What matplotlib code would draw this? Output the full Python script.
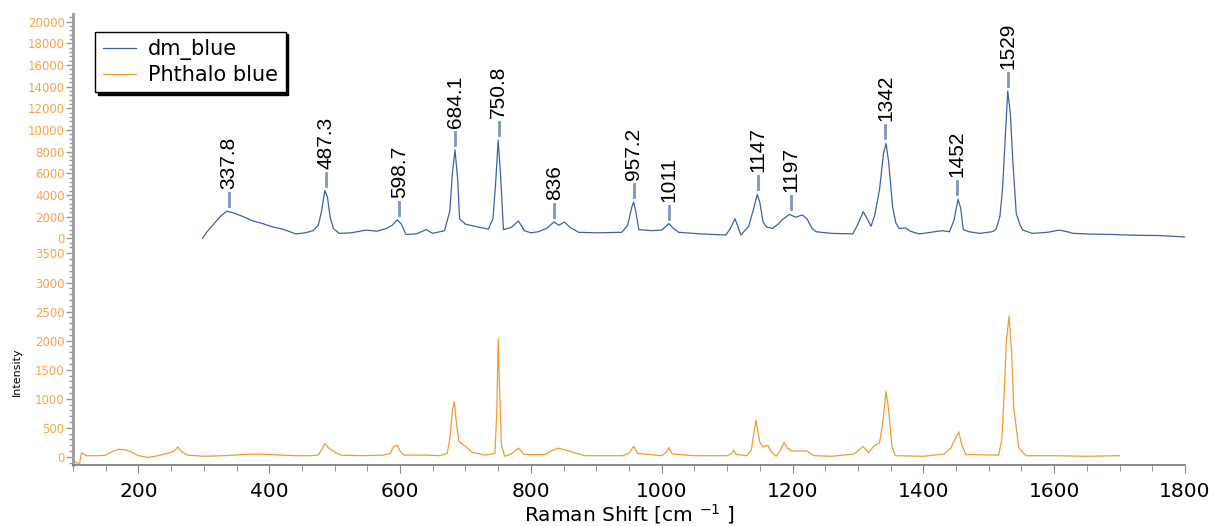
import matplotlib
matplotlib.use('Agg')
import matplotlib.pyplot as plt
from matplotlib.ticker import MultipleLocator
import numpy as np

# ---- data ------------------------------------------------------------------
dm_x = [298, 305, 315, 325, 335, 345, 360, 375, 390, 405, 420, 441, 455, 467,
        475, 480, 485, 489, 493, 498, 507, 525, 548, 565, 579, 588, 596, 602,
        609, 625, 640, 650, 668, 676, 680, 684, 688, 691, 700, 722, 735, 742,
        746, 750, 754, 758, 770, 781, 790, 800, 811, 824, 835, 843, 851, 860,
        873, 900, 939, 948, 954, 957, 960, 965, 985, 1000, 1011, 1018, 1026,
        1060, 1098, 1105, 1112, 1117, 1121, 1133, 1140, 1146, 1150, 1155, 1160,
        1169, 1178, 1184, 1195, 1205, 1215, 1222, 1230, 1236, 1260, 1292, 1300,
        1308, 1315, 1320, 1326, 1333, 1339, 1343, 1347, 1353, 1358, 1363, 1373,
        1380, 1394, 1429, 1440, 1447, 1453, 1457, 1461, 1470, 1486, 1505, 1511,
        1517, 1521, 1525, 1529, 1533, 1537, 1542, 1548, 1552, 1567, 1590, 1608,
        1620, 1629, 1660, 1690, 1720, 1760, 1800]
dm_y = [0, 600, 1300, 2000, 2500, 2350, 2000, 1600, 1350, 1050, 850, 400, 500,
        700, 1200, 2500, 4400, 3800, 2000, 900, 450, 500, 750, 650, 900, 1200,
        1700, 1300, 350, 400, 800, 450, 700, 2500, 6000, 8150, 5500, 1800, 1300,
        1000, 850, 1800, 5000, 9050, 5500, 800, 1000, 1600, 700, 500, 600, 900,
        1500, 1200, 1500, 1000, 550, 500, 550, 1200, 2800, 3350, 2600, 800, 700,
        750, 1350, 900, 550, 400, 300, 900, 1800, 1000, 300, 1100, 2600, 4050,
        3300, 1500, 1050, 900, 1300, 1700, 2200, 1950, 2150, 1800, 900, 600,
        450, 400, 1300, 2450, 1700, 1100, 2200, 4500, 7800, 8750, 7000, 2900,
        1400, 900, 950, 650, 400, 700, 600, 1700, 3600, 2800, 800, 600, 450,
        600, 800, 2000, 4500, 9000, 13600, 11500, 6900, 2300, 1200, 750, 450,
        550, 750, 600, 450, 380, 350, 280, 250, 120]

pb_x = [100, 105, 110, 113, 120, 140, 150, 160, 170, 180, 190, 200, 215, 230,
        245, 255, 260, 265, 275, 300, 330, 360, 380, 400, 420, 440, 460, 475,
        480, 485, 490, 500, 510, 540, 575, 585, 590, 596, 600, 606, 640, 660,
        672, 676, 680, 683, 686, 690, 700, 710, 730, 745, 748, 750, 752, 755,
        760, 770, 781, 790, 822, 830, 842, 855, 870, 883, 940, 950, 957, 963,
        1000, 1007, 1011, 1016, 1050, 1100, 1107, 1110, 1114, 1130, 1137, 1144,
        1150, 1155, 1162, 1168, 1175, 1182, 1187, 1192, 1199, 1222, 1233, 1260,
        1294, 1308, 1316, 1324, 1333, 1338, 1343, 1347, 1352, 1357, 1400, 1432,
        1442, 1454, 1459, 1465, 1515, 1520, 1523, 1527, 1531, 1535, 1538, 1546,
        1557, 1600, 1650, 1700]
pb_y = [-50, -100, -110, 70, 20, 20, 30, 90, 130, 120, 80, 20, -10, 20, 60,
        100, 170, 100, 30, 10, 20, 40, 50, 40, 30, 20, 20, 30, 120, 230, 160,
        80, 30, 20, 30, 60, 180, 200, 100, 30, 30, 20, 60, 300, 800, 950, 600,
        260, 180, 80, 30, 60, 800, 2030, 1200, 200, 10, 50, 150, 40, 40, 100,
        150, 110, 60, 20, 20, 60, 180, 60, 20, 80, 160, 50, 20, 20, 60, 120,
        40, 20, 120, 630, 250, 170, 200, 80, 10, 120, 250, 150, 100, 100, 20,
        10, 50, 180, 70, 180, 240, 600, 1130, 800, 180, 20, 10, 50, 150, 430,
        200, 40, 30, 300, 980, 2000, 2420, 1800, 870, 150, 20, 20, 10, 20]

peak_labels = ['337.8', '487.3', '598.7', '684.1', '750.8', '836', '957.2',
               '1011', '1147', '1197', '1342', '1452', '1529']

x_ticks = [200, 400, 600, 800, 1000, 1200, 1400, 1600, 1800]

BLUE = '#3f60a8'
ORANGE = '#f39a2e'
TICK_ORANGE = '#f5a448'
SPINE = '#9a9a9a'

W, H = 1216, 526
fig = plt.figure(figsize=(W / 100, H / 100), dpi=100)

left, right = 73 / W, 1185 / W
ax_top = fig.add_axes([left, 1 - 248 / H, right - left, (248 - 14) / H])
ax_bot = fig.add_axes([left, 1 - 465 / H, right - left, (465 - 250) / H],
                      sharex=ax_top)

ax_top.plot(dm_x, dm_y, color=BLUE, linewidth=0.9, label='dm_blue')
ax_bot.plot(pb_x, pb_y, color=ORANGE, linewidth=0.9, label='Phthalo blue')

ax_top.set_xlim(100, 1800)
ax_top.set_ylim(-900, 20700)
ax_bot.set_ylim(-140, 3560)

for ax in (ax_top, ax_bot):
    for s in ('top', 'right'):
        ax.spines[s].set_visible(False)
    ax.spines['left'].set_color(SPINE)
    ax.spines['left'].set_linewidth(2)
    ax.tick_params(axis='y', which='both', colors=SPINE, labelcolor=TICK_ORANGE,
                   labelsize=8.5, direction='out', width=1, pad=1)
    ax.tick_params(axis='y', which='major', length=5)
    ax.tick_params(axis='y', which='minor', length=3)

ax_top.spines['bottom'].set_visible(False)
ax_top.tick_params(axis='x', which='both', bottom=False, labelbottom=False)
ax_top.yaxis.set_major_locator(MultipleLocator(2000))
ax_top.yaxis.set_minor_locator(MultipleLocator(400))

ax_bot.yaxis.set_major_locator(MultipleLocator(500))
ax_bot.yaxis.set_minor_locator(MultipleLocator(100))
ax_bot.spines['bottom'].set_color('#777777')
ax_bot.spines['bottom'].set_linewidth(1.2)
ax_bot.set_xticks(x_ticks)
ax_bot.xaxis.set_minor_locator(MultipleLocator(50))
ax_bot.tick_params(axis='x', which='both', colors='#888888', labelcolor='black',
                   labelsize=14.5, direction='out', pad=6)
ax_bot.tick_params(axis='x', which='major', length=6)
ax_bot.tick_params(axis='x', which='minor', length=4)
ax_bot.set_xlabel('Raman Shift [cm $^{-1}$ ]', fontsize=14.5, labelpad=1)

fig.text(17 / W, 1 - 372 / H, 'Intensity', rotation=90, fontsize=8,
         ha='center', va='center')

# ---- peak annotations -------------------------------------------------
units_per_px = (20700 + 900) / 234
dx = np.array(dm_x)
dy = np.array(dm_y)
for lab in peak_labels:
    px = float(lab)
    near = (dx > px - 7) & (dx < px + 7)
    top = dy[near].max()
    ax_top.plot([px, px], [top + 5 * units_per_px, top + 18 * units_per_px],
                color='#7d94c4', linewidth=2)
    ax_top.text(px, top + 22 * units_per_px, lab, rotation=90, ha='center',
                va='bottom', fontsize=15, family='Liberation Sans')

# ---- legend -------------------------------------------------------------
h1, l1 = ax_top.get_legend_handles_labels()
h2, l2 = ax_bot.get_legend_handles_labels()
leg = ax_top.legend(h1 + h2, l1 + l2, loc='upper left',
                    bbox_to_anchor=(0.02, 0.925), borderaxespad=0,
                    fontsize=15, fancybox=False, framealpha=1,
                    edgecolor='black', shadow={'color': 'black', 'alpha': 1},
                    handlelength=1.6, handletextpad=0.6, borderpad=0.35,
                    labelspacing=0.25)
leg.get_frame().set_linewidth(1)

fig.savefig('out.png', dpi=100)
